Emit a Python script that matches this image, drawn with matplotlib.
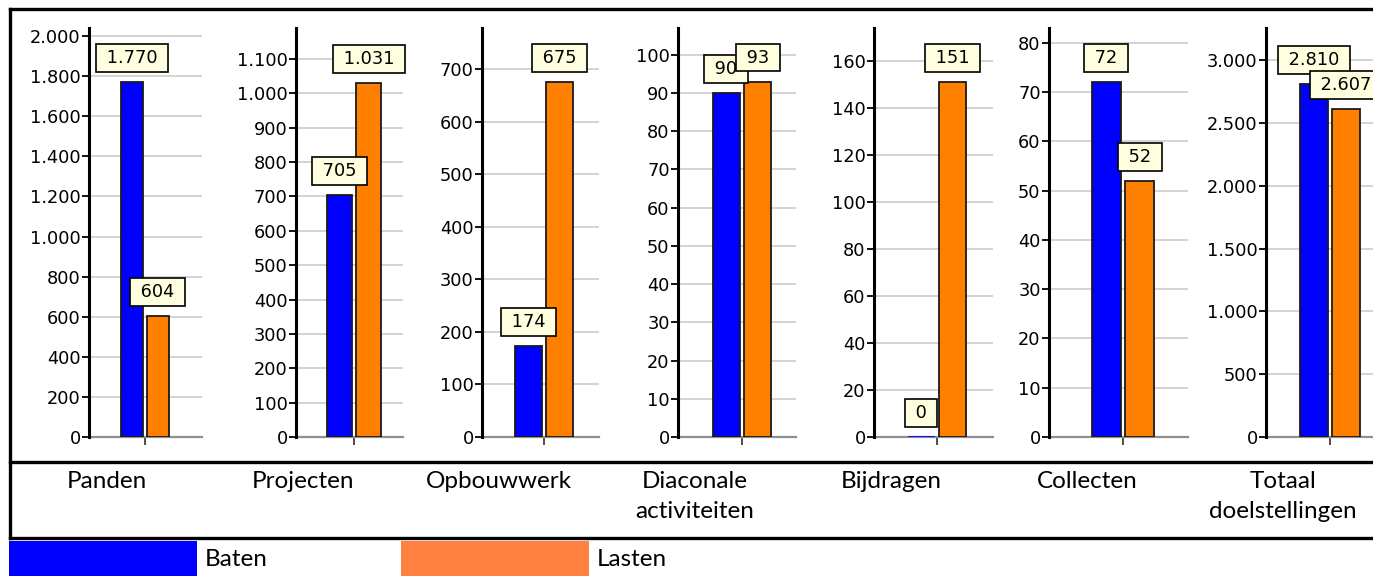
"""Baten en lasten per doelstelling: seven small bar panels with their own y-scale."""

import matplotlib

matplotlib.use("Agg")
import matplotlib.pyplot as plt
from matplotlib.patches import Rectangle
from matplotlib.lines import Line2D

W, H = 1373, 576

# --- data -------------------------------------------------------------------
categories = ["Panden", "Projecten", "Opbouwwerk", "Diaconale\nactiviteiten",
              "Bijdragen", "Collecten", "Totaal\ndoelstellingen"]
baten = [1770, 705, 174, 90, 0, 72, 2810]
lasten = [604, 1031, 675, 93, 151, 52, 2607]
series_names = ["Baten", "Lasten"]
y_steps = [200, 100, 100, 10, 20, 10, 500]
y_tops = [2040, 1190, 778, 107, 174, 83, 3255]

# --- layout (pixels) ----------------------------------------------------------
# per panel: y-axis x, right end of grid, bar-pair centre, bar width
panel_left = [89, 296, 482, 678, 874, 1049, 1266]
panel_right = [202, 403, 599, 796, 993, 1188, 1400]
panel_mid = [145, 354, 544, 742, 937, 1123, 1330]
bar_px = [22, 25, 27, 27, 27, 29, 28]
plot_top, plot_bottom = 28, 437
cell_w = 196
cell_x0 = 9

bar_colors = ["#0000FF", "#FF8000"]
legend_colors = ["#0000FF", "#FF8040"]
box_face = "#FFFFE0"
tick_font = "DejaVu Sans"
label_font = "Lato"


def fx(x):
    return x / W


def fy(y):
    return 1 - y / H


def nl(v):
    return f"{v:,.0f}".replace(",", ".")


fig = plt.figure(figsize=(W / 100, H / 100), dpi=100)

gap = 0.17
for i, cat in enumerate(categories):
    left, right, mid, bw = panel_left[i], panel_right[i], panel_mid[i], bar_px[i]
    ax = fig.add_axes([fx(left), fy(plot_bottom), fx(right - left),
                       (plot_bottom - plot_top) / H])
    ax.set_xlim(-(mid - left) / bw, (right - mid) / bw)
    ax.set_ylim(0, y_tops[i])

    xs = [-(0.5 + gap / 2), 0.5 + gap / 2]
    vals = [baten[i], lasten[i]]
    for x, v, c in zip(xs, vals, bar_colors):
        ax.bar(x, v, width=1.0, color=c, edgecolor=c if v == 0 else "#1a1a1a",
               linewidth=1.3, zorder=3)
    for x, v in zip(xs, vals):
        ax.annotate(f" {nl(v)} ", xy=(x, v), xytext=(0, 15), textcoords="offset pixels",
                    ha="center", va="bottom", fontsize=12.8, family=tick_font,
                    bbox=dict(boxstyle="square,pad=0.28", fc=box_face, ec="black", lw=1.2),
                    zorder=5, annotation_clip=False)

    ticks = list(range(0, int(y_tops[i]) + 1, y_steps[i]))
    ax.set_yticks(ticks)
    ax.set_yticklabels([nl(t) for t in ticks], fontsize=12.8, family=tick_font)
    ax.tick_params(axis="y", length=5, width=1.3, pad=1, color="black")
    ax.set_xticks([0])
    ax.set_xticklabels([""])
    ax.tick_params(axis="x", length=6, width=1.3, color="#404040")
    ax.yaxis.grid(True, color="#C8C8C8", lw=1.1, zorder=0)
    ax.set_axisbelow(True)
    for s in ("top", "right"):
        ax.spines[s].set_visible(False)
    ax.spines["left"].set_linewidth(2.2)
    ax.spines["left"].set_zorder(4)
    ax.spines["bottom"].set_color("#909090")
    ax.spines["bottom"].set_linewidth(1.6)
    ax.patch.set_alpha(0)

    # category label centred in its cell
    cx = cell_x0 + cell_w * (i + 0.5)
    fig.text(fx(cx), fy(471), cat, ha="center", va="top", fontsize=17.5,
             family=label_font, linespacing=1.5)

# outer frame and separator
frame = [((9.5, 9), (W + 20, 9)), ((9.5, 9), (9.5, 538)),
         ((9.5, 538), (W + 20, 538)), ((9.5, 462), (W + 20, 462))]
for (x0, y0), (x1, y1) in frame:
    fig.add_artist(Line2D([fx(x0), fx(x1)], [fy(y0), fy(y1)], color="black", lw=2.4))

# legend strip
for j, (name, c) in enumerate(zip(series_names, legend_colors)):
    x0 = cell_x0 + 2 * cell_w * j
    fig.add_artist(Rectangle((fx(x0), 0), fx(188), fy(541), transform=fig.transFigure,
                             fc=c, ec="none"))
    fig.text(fx(x0 + 196), fy(559), name, ha="left", va="center", fontsize=17.5,
             family=label_font)

fig.savefig("out.png", dpi=100)
